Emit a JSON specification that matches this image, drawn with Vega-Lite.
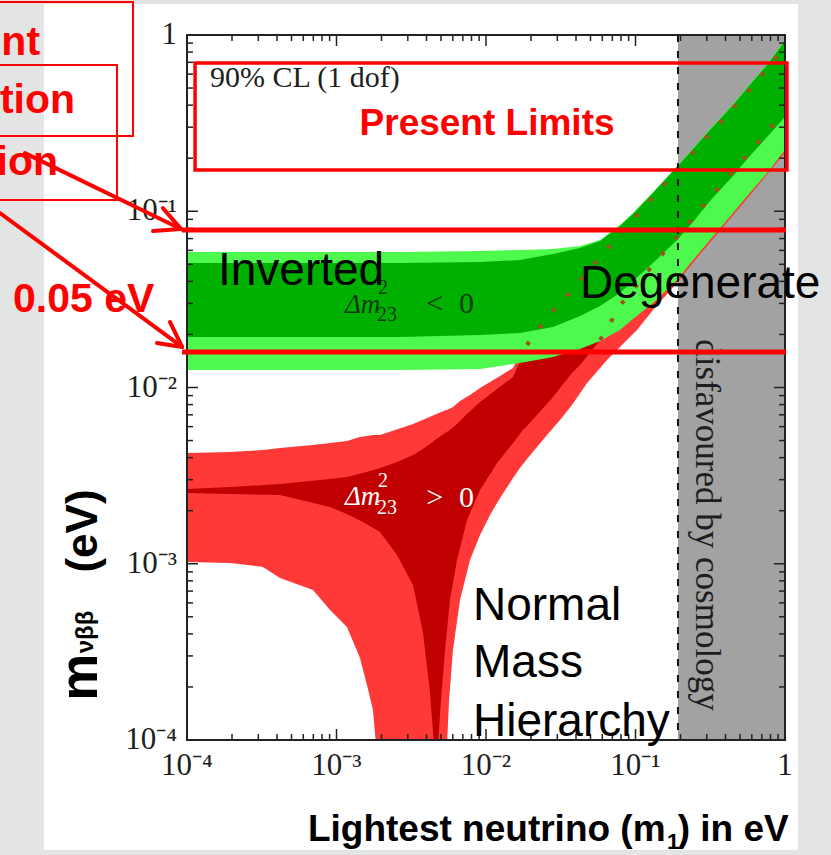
{
  "$schema": "https://vega.github.io/schema/vega-lite/v6.json",
  "width": 598,
  "height": 705,
  "autosize": {"type": "none"},
  "padding": {"left": 187, "top": 35, "right": 46, "bottom": 115},
  "background": "#ffffff",
  "config": {"view": {"stroke": null}},
  "datasets": {
    "bands": [
      {"band": "inverted_outer", "log_m1": -4.0, "log_mbb_upper": -1.231, "log_mbb_lower": -1.901},
      {"band": "inverted_outer", "log_m1": -3.244, "log_mbb_upper": -1.231, "log_mbb_lower": -1.901},
      {"band": "inverted_outer", "log_m1": -2.575, "log_mbb_upper": -1.231, "log_mbb_lower": -1.901},
      {"band": "inverted_outer", "log_m1": -2.04, "log_mbb_upper": -1.226, "log_mbb_lower": -1.895},
      {"band": "inverted_outer", "log_m1": -1.773, "log_mbb_upper": -1.22, "log_mbb_lower": -1.861},
      {"band": "inverted_outer", "log_m1": -1.552, "log_mbb_upper": -1.214, "log_mbb_lower": -1.827},
      {"band": "inverted_outer", "log_m1": -1.371, "log_mbb_upper": -1.197, "log_mbb_lower": -1.782},
      {"band": "inverted_outer", "log_m1": -1.237, "log_mbb_upper": -1.163, "log_mbb_lower": -1.736},
      {"band": "inverted_outer", "log_m1": -1.104, "log_mbb_upper": -1.078, "log_mbb_lower": -1.674},
      {"band": "inverted_outer", "log_m1": -1.017, "log_mbb_upper": -1.01, "log_mbb_lower": -1.611},
      {"band": "inverted_outer", "log_m1": -0.883, "log_mbb_upper": -0.891, "log_mbb_lower": -1.521},
      {"band": "inverted_outer", "log_m1": -0.722, "log_mbb_upper": -0.743, "log_mbb_lower": -1.39},
      {"band": "inverted_outer", "log_m1": -0.615, "log_mbb_upper": -0.641, "log_mbb_lower": -1.277},
      {"band": "inverted_outer", "log_m1": -0.502, "log_mbb_upper": -0.533, "log_mbb_lower": -1.163},
      {"band": "inverted_outer", "log_m1": -0.348, "log_mbb_upper": -0.391, "log_mbb_lower": -1.01},
      {"band": "inverted_outer", "log_m1": -0.247, "log_mbb_upper": -0.289, "log_mbb_lower": -0.908},
      {"band": "inverted_outer", "log_m1": -0.12, "log_mbb_upper": -0.165, "log_mbb_lower": -0.783},
      {"band": "inverted_outer", "log_m1": 0.0, "log_mbb_upper": -0.028, "log_mbb_lower": -0.652},
      {"band": "inverted_inner", "log_m1": -4.0, "log_mbb_upper": -1.294, "log_mbb_lower": -1.713},
      {"band": "inverted_inner", "log_m1": -3.244, "log_mbb_upper": -1.294, "log_mbb_lower": -1.713},
      {"band": "inverted_inner", "log_m1": -2.575, "log_mbb_upper": -1.294, "log_mbb_lower": -1.713},
      {"band": "inverted_inner", "log_m1": -2.04, "log_mbb_upper": -1.288, "log_mbb_lower": -1.702},
      {"band": "inverted_inner", "log_m1": -1.773, "log_mbb_upper": -1.277, "log_mbb_lower": -1.691},
      {"band": "inverted_inner", "log_m1": -1.552, "log_mbb_upper": -1.243, "log_mbb_lower": -1.657},
      {"band": "inverted_inner", "log_m1": -1.371, "log_mbb_upper": -1.209, "log_mbb_lower": -1.594},
      {"band": "inverted_inner", "log_m1": -1.237, "log_mbb_upper": -1.169, "log_mbb_lower": -1.538},
      {"band": "inverted_inner", "log_m1": -1.104, "log_mbb_upper": -1.084, "log_mbb_lower": -1.464},
      {"band": "inverted_inner", "log_m1": -1.017, "log_mbb_upper": -1.016, "log_mbb_lower": -1.396},
      {"band": "inverted_inner", "log_m1": -0.883, "log_mbb_upper": -0.896, "log_mbb_lower": -1.294},
      {"band": "inverted_inner", "log_m1": -0.722, "log_mbb_upper": -0.749, "log_mbb_lower": -1.163},
      {"band": "inverted_inner", "log_m1": -0.615, "log_mbb_upper": -0.647, "log_mbb_lower": -1.061},
      {"band": "inverted_inner", "log_m1": -0.502, "log_mbb_upper": -0.539, "log_mbb_lower": -0.942},
      {"band": "inverted_inner", "log_m1": -0.348, "log_mbb_upper": -0.397, "log_mbb_lower": -0.8},
      {"band": "inverted_inner", "log_m1": -0.247, "log_mbb_upper": -0.295, "log_mbb_lower": -0.698},
      {"band": "inverted_inner", "log_m1": -0.12, "log_mbb_upper": -0.17, "log_mbb_lower": -0.579},
      {"band": "inverted_inner", "log_m1": 0.0, "log_mbb_upper": -0.034, "log_mbb_lower": -0.465},
      {"band": "normal_outer", "log_m1": -4.0, "log_mbb_upper": -2.372, "log_mbb_lower": -2.99},
      {"band": "normal_outer", "log_m1": -3.712, "log_mbb_upper": -2.366, "log_mbb_lower": -2.996},
      {"band": "normal_outer", "log_m1": -3.492, "log_mbb_upper": -2.355, "log_mbb_lower": -3.018},
      {"band": "normal_outer", "log_m1": -3.378, "log_mbb_upper": -2.343, "log_mbb_lower": -3.081},
      {"band": "normal_outer", "log_m1": -3.157, "log_mbb_upper": -2.326, "log_mbb_lower": -3.149},
      {"band": "normal_outer", "log_m1": -3.043, "log_mbb_upper": -2.315, "log_mbb_lower": -3.262},
      {"band": "normal_outer", "log_m1": -2.93, "log_mbb_upper": -2.304, "log_mbb_lower": -3.359},
      {"band": "normal_outer", "log_m1": -2.843, "log_mbb_upper": -2.281, "log_mbb_lower": -3.535},
      {"band": "normal_outer", "log_m1": -2.796, "log_mbb_upper": -2.275, "log_mbb_lower": -3.688},
      {"band": "normal_outer", "log_m1": -2.756, "log_mbb_upper": -2.27, "log_mbb_lower": -3.83},
      {"band": "normal_outer", "log_m1": -2.736, "log_mbb_upper": -2.27, "log_mbb_lower": -4.028},
      {"band": "normal_outer", "log_m1": -2.709, "log_mbb_upper": -2.27, "log_mbb_lower": -4.2},
      {"band": "normal_outer", "log_m1": -2.488, "log_mbb_upper": -2.207, "log_mbb_lower": -4.2},
      {"band": "normal_outer", "log_m1": -2.268, "log_mbb_upper": -2.128, "log_mbb_lower": -4.2},
      {"band": "normal_outer", "log_m1": -2.261, "log_mbb_upper": -2.128, "log_mbb_lower": -4.028},
      {"band": "normal_outer", "log_m1": -2.247, "log_mbb_upper": -2.122, "log_mbb_lower": -3.773},
      {"band": "normal_outer", "log_m1": -2.221, "log_mbb_upper": -2.111, "log_mbb_lower": -3.489},
      {"band": "normal_outer", "log_m1": -2.174, "log_mbb_upper": -2.077, "log_mbb_lower": -3.206},
      {"band": "normal_outer", "log_m1": -2.107, "log_mbb_upper": -2.043, "log_mbb_lower": -2.979},
      {"band": "normal_outer", "log_m1": -2.04, "log_mbb_upper": -2.003, "log_mbb_lower": -2.837},
      {"band": "normal_outer", "log_m1": -1.973, "log_mbb_upper": -1.969, "log_mbb_lower": -2.723},
      {"band": "normal_outer", "log_m1": -1.906, "log_mbb_upper": -1.935, "log_mbb_lower": -2.627},
      {"band": "normal_outer", "log_m1": -1.819, "log_mbb_upper": -1.889, "log_mbb_lower": -2.513},
      {"band": "normal_outer", "log_m1": -1.773, "log_mbb_upper": -1.804, "log_mbb_lower": -2.457},
      {"band": "normal_outer", "log_m1": -1.726, "log_mbb_upper": -1.719, "log_mbb_lower": -2.406},
      {"band": "normal_outer", "log_m1": -1.592, "log_mbb_upper": -1.572, "log_mbb_lower": -2.27},
      {"band": "normal_outer", "log_m1": -1.505, "log_mbb_upper": -1.492, "log_mbb_lower": -2.184},
      {"band": "normal_outer", "log_m1": -1.425, "log_mbb_upper": -1.418, "log_mbb_lower": -2.099},
      {"band": "normal_outer", "log_m1": -1.324, "log_mbb_upper": -1.316, "log_mbb_lower": -1.974},
      {"band": "normal_outer", "log_m1": -1.237, "log_mbb_upper": -1.231, "log_mbb_lower": -1.889},
      {"band": "normal_outer", "log_m1": -1.191, "log_mbb_upper": -1.186, "log_mbb_lower": -1.844},
      {"band": "normal_outer", "log_m1": -1.104, "log_mbb_upper": -1.11, "log_mbb_lower": -1.77},
      {"band": "normal_outer", "log_m1": -0.99, "log_mbb_upper": -1.02, "log_mbb_lower": -1.674},
      {"band": "normal_outer", "log_m1": -0.883, "log_mbb_upper": -0.92, "log_mbb_lower": -1.56},
      {"band": "normal_outer", "log_m1": -0.722, "log_mbb_upper": -0.78, "log_mbb_lower": -1.405},
      {"band": "normal_outer", "log_m1": -0.589, "log_mbb_upper": -0.66, "log_mbb_lower": -1.265},
      {"band": "normal_outer", "log_m1": -0.247, "log_mbb_upper": -0.32, "log_mbb_lower": -0.922},
      {"band": "normal_outer", "log_m1": 0.0, "log_mbb_upper": -0.06, "log_mbb_lower": -0.668},
      {"band": "normal_inner", "log_m1": -4.0, "log_mbb_upper": -2.576, "log_mbb_lower": -2.599},
      {"band": "normal_inner", "log_m1": -3.712, "log_mbb_upper": -2.565, "log_mbb_lower": -2.604},
      {"band": "normal_inner", "log_m1": -3.378, "log_mbb_upper": -2.548, "log_mbb_lower": -2.61},
      {"band": "normal_inner", "log_m1": -3.043, "log_mbb_upper": -2.519, "log_mbb_lower": -2.678},
      {"band": "normal_inner", "log_m1": -2.93, "log_mbb_upper": -2.508, "log_mbb_lower": -2.718},
      {"band": "normal_inner", "log_m1": -2.823, "log_mbb_upper": -2.485, "log_mbb_lower": -2.763},
      {"band": "normal_inner", "log_m1": -2.709, "log_mbb_upper": -2.457, "log_mbb_lower": -2.82},
      {"band": "normal_inner", "log_m1": -2.595, "log_mbb_upper": -2.423, "log_mbb_lower": -2.95},
      {"band": "normal_inner", "log_m1": -2.488, "log_mbb_upper": -2.383, "log_mbb_lower": -3.121},
      {"band": "normal_inner", "log_m1": -2.421, "log_mbb_upper": -2.349, "log_mbb_lower": -3.393},
      {"band": "normal_inner", "log_m1": -2.375, "log_mbb_upper": -2.321, "log_mbb_lower": -3.728},
      {"band": "normal_inner", "log_m1": -2.348, "log_mbb_upper": -2.304, "log_mbb_lower": -4.028},
      {"band": "normal_inner", "log_m1": -2.334, "log_mbb_upper": -2.292, "log_mbb_lower": -4.2},
      {"band": "normal_inner", "log_m1": -2.321, "log_mbb_upper": -2.287, "log_mbb_lower": -4.028},
      {"band": "normal_inner", "log_m1": -2.301, "log_mbb_upper": -2.275, "log_mbb_lower": -3.773},
      {"band": "normal_inner", "log_m1": -2.274, "log_mbb_upper": -2.258, "log_mbb_lower": -3.489},
      {"band": "normal_inner", "log_m1": -2.241, "log_mbb_upper": -2.241, "log_mbb_lower": -3.206},
      {"band": "normal_inner", "log_m1": -2.194, "log_mbb_upper": -2.207, "log_mbb_lower": -2.979},
      {"band": "normal_inner", "log_m1": -2.127, "log_mbb_upper": -2.15, "log_mbb_lower": -2.752},
      {"band": "normal_inner", "log_m1": -2.04, "log_mbb_upper": -2.082, "log_mbb_lower": -2.582},
      {"band": "normal_inner", "log_m1": -1.926, "log_mbb_upper": -2.009, "log_mbb_lower": -2.428},
      {"band": "normal_inner", "log_m1": -1.819, "log_mbb_upper": -1.94, "log_mbb_lower": -2.315},
      {"band": "normal_inner", "log_m1": -1.753, "log_mbb_upper": -1.81, "log_mbb_lower": -2.241},
      {"band": "normal_inner", "log_m1": -1.726, "log_mbb_upper": -1.759, "log_mbb_lower": -2.218},
      {"band": "normal_inner", "log_m1": -1.605, "log_mbb_upper": -1.617, "log_mbb_lower": -2.105},
      {"band": "normal_inner", "log_m1": -1.552, "log_mbb_upper": -1.566, "log_mbb_lower": -2.054},
      {"band": "normal_inner", "log_m1": -1.425, "log_mbb_upper": -1.447, "log_mbb_lower": -1.918},
      {"band": "normal_inner", "log_m1": -1.371, "log_mbb_upper": -1.396, "log_mbb_lower": -1.872},
      {"band": "normal_inner", "log_m1": -1.237, "log_mbb_upper": -1.26, "log_mbb_lower": -1.73},
      {"band": "normal_inner", "log_m1": -1.09, "log_mbb_upper": -1.112, "log_mbb_lower": -1.521},
      {"band": "normal_inner", "log_m1": -0.997, "log_mbb_upper": -1.03, "log_mbb_lower": -1.424},
      {"band": "normal_inner", "log_m1": -0.883, "log_mbb_upper": -0.92, "log_mbb_lower": -1.305},
      {"band": "normal_inner", "log_m1": -0.749, "log_mbb_upper": -0.79, "log_mbb_lower": -1.174},
      {"band": "normal_inner", "log_m1": -0.502, "log_mbb_upper": -0.56, "log_mbb_lower": -0.925},
      {"band": "normal_inner", "log_m1": -0.247, "log_mbb_upper": -0.32, "log_mbb_lower": -0.675},
      {"band": "normal_inner", "log_m1": 0.0, "log_mbb_upper": -0.065, "log_mbb_lower": -0.431}
    ],
    "edges": [
      {"curve": "normal_inner_upper", "log_m1": -1.726, "log_mbb": -1.759},
      {"curve": "normal_inner_upper", "log_m1": -1.605, "log_mbb": -1.617},
      {"curve": "normal_inner_upper", "log_m1": -1.425, "log_mbb": -1.447},
      {"curve": "normal_inner_upper", "log_m1": -1.237, "log_mbb": -1.26},
      {"curve": "normal_inner_upper", "log_m1": -0.997, "log_mbb": -1.03},
      {"curve": "normal_inner_upper", "log_m1": -0.749, "log_mbb": -0.79},
      {"curve": "normal_inner_upper", "log_m1": -0.502, "log_mbb": -0.56},
      {"curve": "normal_inner_upper", "log_m1": -0.247, "log_mbb": -0.32},
      {"curve": "normal_inner_upper", "log_m1": 0.0, "log_mbb": -0.065},
      {"curve": "normal_inner_lower", "log_m1": -1.237, "log_mbb": -1.73},
      {"curve": "normal_inner_lower", "log_m1": -1.09, "log_mbb": -1.521},
      {"curve": "normal_inner_lower", "log_m1": -0.883, "log_mbb": -1.305},
      {"curve": "normal_inner_lower", "log_m1": -0.749, "log_mbb": -1.174},
      {"curve": "normal_inner_lower", "log_m1": -0.502, "log_mbb": -0.925},
      {"curve": "normal_inner_lower", "log_m1": -0.247, "log_mbb": -0.675},
      {"curve": "normal_inner_lower", "log_m1": 0.0, "log_mbb": -0.431}
    ],
    "ticks": [
      {"tick": -4, "kind": "major", "label": "10⁻⁴"},
      {"tick": -3.699, "kind": "minor", "label": ""},
      {"tick": -3.523, "kind": "minor", "label": ""},
      {"tick": -3.398, "kind": "minor", "label": ""},
      {"tick": -3.301, "kind": "minor", "label": ""},
      {"tick": -3.222, "kind": "minor", "label": ""},
      {"tick": -3.155, "kind": "minor", "label": ""},
      {"tick": -3.097, "kind": "minor", "label": ""},
      {"tick": -3.046, "kind": "minor", "label": ""},
      {"tick": -3, "kind": "major", "label": "10⁻³"},
      {"tick": -2.699, "kind": "minor", "label": ""},
      {"tick": -2.523, "kind": "minor", "label": ""},
      {"tick": -2.398, "kind": "minor", "label": ""},
      {"tick": -2.301, "kind": "minor", "label": ""},
      {"tick": -2.222, "kind": "minor", "label": ""},
      {"tick": -2.155, "kind": "minor", "label": ""},
      {"tick": -2.097, "kind": "minor", "label": ""},
      {"tick": -2.046, "kind": "minor", "label": ""},
      {"tick": -2, "kind": "major", "label": "10⁻²"},
      {"tick": -1.699, "kind": "minor", "label": ""},
      {"tick": -1.523, "kind": "minor", "label": ""},
      {"tick": -1.398, "kind": "minor", "label": ""},
      {"tick": -1.301, "kind": "minor", "label": ""},
      {"tick": -1.222, "kind": "minor", "label": ""},
      {"tick": -1.155, "kind": "minor", "label": ""},
      {"tick": -1.097, "kind": "minor", "label": ""},
      {"tick": -1.046, "kind": "minor", "label": ""},
      {"tick": -1, "kind": "major", "label": "10⁻¹"},
      {"tick": -0.699, "kind": "minor", "label": ""},
      {"tick": -0.523, "kind": "minor", "label": ""},
      {"tick": -0.398, "kind": "minor", "label": ""},
      {"tick": -0.301, "kind": "minor", "label": ""},
      {"tick": -0.222, "kind": "minor", "label": ""},
      {"tick": -0.155, "kind": "minor", "label": ""},
      {"tick": -0.097, "kind": "minor", "label": ""},
      {"tick": -0.046, "kind": "minor", "label": ""},
      {"tick": 0, "kind": "major", "label": "1"}
    ],
    "annotations": [
      {"role": "region", "text": "Inverted", "log_m1": -3.793, "log_mbb": -1.418},
      {"role": "region", "text": "Degenerate", "log_m1": -1.371, "log_mbb": -1.492},
      {"role": "region", "text": "Normal", "log_m1": -2.087, "log_mbb": -3.319},
      {"role": "region", "text": "Mass", "log_m1": -2.087, "log_mbb": -3.643},
      {"role": "region", "text": "Hierarchy", "log_m1": -2.087, "log_mbb": -3.977},
      {"role": "cut", "text": "nt", "log_m1": -4.983, "log_mbb": -0.113},
      {"role": "cut", "text": "tion", "log_m1": -4.749, "log_mbb": -0.443},
      {"role": "cut", "text": "ion", "log_m1": -4.863, "log_mbb": -0.794},
      {"role": "value", "text": "0.05 eV", "log_m1": -5.164, "log_mbb": -1.572},
      {"role": "limits", "text": "Present Limits", "log_m1": -1.993, "log_mbb": -0.567},
      {"role": "cl", "text": "90% CL (1 dof)", "log_m1": -3.846, "log_mbb": -0.295},
      {"role": "cosmology", "text": "disfavoured by cosmology", "log_m1": -0.522, "log_mbb": -2.78}
    ],
    "dm": [
      {"hierarchy": "inverted", "part": "symbol", "text": "Δm", "log_m1": -2.943, "log_mbb": -1.577},
      {"hierarchy": "inverted", "part": "index", "text": "2", "log_m1": -2.722, "log_mbb": -1.47},
      {"hierarchy": "inverted", "part": "index", "text": "23", "log_m1": -2.729, "log_mbb": -1.625},
      {"hierarchy": "inverted", "part": "relation", "text": "<", "log_m1": -2.4, "log_mbb": -1.577},
      {"hierarchy": "inverted", "part": "relation", "text": "0", "log_m1": -2.18, "log_mbb": -1.577},
      {"hierarchy": "normal", "part": "symbol", "text": "Δm", "log_m1": -2.943, "log_mbb": -2.667},
      {"hierarchy": "normal", "part": "index", "text": "2", "log_m1": -2.722, "log_mbb": -2.565},
      {"hierarchy": "normal", "part": "index", "text": "23", "log_m1": -2.729, "log_mbb": -2.715},
      {"hierarchy": "normal", "part": "relation", "text": ">", "log_m1": -2.4, "log_mbb": -2.678},
      {"hierarchy": "normal", "part": "relation", "text": "0", "log_m1": -2.18, "log_mbb": -2.678}
    ],
    "titles": [
      {"part": "y_m", "text": "m", "log_m1": -4.602, "log_mbb": -3.643},
      {"part": "y_sub", "text": "νββ", "log_m1": -4.629, "log_mbb": -3.387},
      {"part": "y_unit", "text": "(eV)", "log_m1": -4.602, "log_mbb": -2.814},
      {"part": "x_main", "text": "Lightest neutrino (m", "log_m1": -3.191, "log_mbb": -4.573},
      {"part": "x_sub", "text": "1", "log_m1": -0.79, "log_mbb": -4.618},
      {"part": "x_end", "text": ") in eV", "log_m1": 0.025, "log_mbb": -4.573}
    ],
    "margins": [
      {"side": "left", "x_start": -5.5, "x_end": -4.957, "y_start": 0.4, "y_end": -4.9},
      {"side": "right", "x_start": 0.087, "x_end": 0.5, "y_start": 0.4, "y_end": -4.9},
      {"side": "top", "x_start": -5.5, "x_end": 0.5, "y_start": 0.4, "y_end": 0.176},
      {"side": "bottom", "x_start": -5.5, "x_end": 0.5, "y_start": -4.624, "y_end": -4.9}
    ],
    "boxes": [
      {"box": "present", "x_start": -3.946, "x_end": 0.013, "y_start": -0.159, "y_end": -0.766},
      {"box": "left_upper", "x_start": -5.3, "x_end": -4.361, "y_start": 0.187, "y_end": -0.573},
      {"box": "left_lower", "x_start": -5.3, "x_end": -4.468, "y_start": -0.17, "y_end": -0.936}
    ],
    "arrows": [
      {"x_start": -5.084, "y_start": -0.67, "x_end": -4.04, "y_end": -1.101},
      {"x_start": -4.227, "y_start": -1.112, "x_end": -4.04, "y_end": -1.101},
      {"x_start": -4.161, "y_start": -0.982, "x_end": -4.04, "y_end": -1.101},
      {"x_start": -5.251, "y_start": -1.01, "x_end": -4.033, "y_end": -1.77},
      {"x_start": -4.201, "y_start": -1.748, "x_end": -4.033, "y_end": -1.77},
      {"x_start": -4.114, "y_start": -1.628, "x_end": -4.033, "y_end": -1.77}
    ]
  },
  "layer": [
    {
      "data": {"name": "margins"},
      "mark": {"type": "rect", "color": "#e3e4e4"},
      "encoding": {
        "x": {"field": "x_start", "type": "quantitative", "scale": {"domain": [-4, 0], "nice": false, "zero": false}, "axis": null},
        "x2": {"field": "x_end"},
        "y": {"field": "y_start", "type": "quantitative", "scale": {"domain": [-4, 0], "nice": false, "zero": false}, "axis": null},
        "y2": {"field": "y_end"}
      }
    },
    {
      "data": {"values": [{"x_start": -0.716, "x_end": 0, "y_start": 0, "y_end": -4}]},
      "mark": {"type": "rect", "color": "#a2a2a2", "clip": true},
      "encoding": {
        "x": {"field": "x_start", "type": "quantitative", "axis": null},
        "x2": {"field": "x_end"},
        "y": {"field": "y_start", "type": "quantitative", "axis": null},
        "y2": {"field": "y_end"}
      }
    },
    {
      "data": {"name": "bands"},
      "transform": [{"filter": "datum.band == 'normal_outer'"}],
      "mark": {"type": "area", "color": "#ff3838", "clip": true},
      "encoding": {
        "x": {"field": "log_m1", "type": "quantitative", "axis": null},
        "y": {"field": "log_mbb_upper", "type": "quantitative", "axis": null},
        "y2": {"field": "log_mbb_lower"}
      }
    },
    {
      "data": {"name": "bands"},
      "transform": [{"filter": "datum.band == 'normal_inner'"}],
      "mark": {"type": "area", "color": "#c00000", "clip": true},
      "encoding": {
        "x": {"field": "log_m1", "type": "quantitative", "axis": null},
        "y": {"field": "log_mbb_upper", "type": "quantitative", "axis": null},
        "y2": {"field": "log_mbb_lower"}
      }
    },
    {
      "data": {"name": "bands"},
      "transform": [{"filter": "datum.band == 'inverted_outer'"}],
      "mark": {"type": "area", "color": "#4cf94c", "clip": true},
      "encoding": {
        "x": {"field": "log_m1", "type": "quantitative", "axis": null},
        "y": {"field": "log_mbb_upper", "type": "quantitative", "axis": null},
        "y2": {"field": "log_mbb_lower"}
      }
    },
    {
      "data": {"name": "bands"},
      "transform": [{"filter": "datum.band == 'inverted_inner'"}],
      "mark": {"type": "area", "color": "#00b000", "clip": true},
      "encoding": {
        "x": {"field": "log_m1", "type": "quantitative", "axis": null},
        "y": {"field": "log_mbb_upper", "type": "quantitative", "axis": null},
        "y2": {"field": "log_mbb_lower"}
      }
    },
    {
      "data": {"name": "edges"},
      "mark": {"type": "line", "color": "#a0521c", "strokeWidth": 4, "strokeDash": [4, 17], "clip": true},
      "encoding": {
        "x": {"field": "log_m1", "type": "quantitative", "axis": null},
        "y": {"field": "log_mbb", "type": "quantitative", "axis": null},
        "detail": {"field": "curve"}
      }
    },
    {
      "data": {"values": [{"log_m1": -0.716}]},
      "mark": {"type": "rule", "color": "#111111", "strokeWidth": 2, "strokeDash": [7, 9]},
      "encoding": {"x": {"field": "log_m1", "type": "quantitative", "axis": null}}
    },
    {
      "data": {"values": [{"x_start": -4, "x_end": 0, "y_start": 0, "y_end": -4}]},
      "mark": {"type": "rect", "fillOpacity": 0, "stroke": "#222222", "strokeWidth": 2},
      "encoding": {
        "x": {"field": "x_start", "type": "quantitative", "axis": null},
        "x2": {"field": "x_end"},
        "y": {"field": "y_start", "type": "quantitative", "axis": null},
        "y2": {"field": "y_end"}
      }
    },
    {
      "data": {"name": "ticks"},
      "transform": [{"filter": "datum.kind == 'major'"}],
      "mark": {"type": "rule", "color": "#222222", "strokeWidth": 1.5},
      "encoding": {
        "x": {"field": "tick", "type": "quantitative", "axis": null},
        "y": {"datum": -4, "type": "quantitative", "axis": null},
        "y2": {"datum": -3.9376}
      }
    },
    {
      "data": {"name": "ticks"},
      "transform": [{"filter": "datum.kind == 'minor'"}],
      "mark": {"type": "rule", "color": "#222222", "strokeWidth": 1.5},
      "encoding": {
        "x": {"field": "tick", "type": "quantitative", "axis": null},
        "y": {"datum": -4, "type": "quantitative", "axis": null},
        "y2": {"datum": -3.966}
      }
    },
    {
      "data": {"name": "ticks"},
      "transform": [{"filter": "datum.kind == 'major'"}],
      "mark": {"type": "rule", "color": "#222222", "strokeWidth": 1.5},
      "encoding": {
        "x": {"field": "tick", "type": "quantitative", "axis": null},
        "y": {"datum": 0, "type": "quantitative", "axis": null},
        "y2": {"datum": -0.0624}
      }
    },
    {
      "data": {"name": "ticks"},
      "transform": [{"filter": "datum.kind == 'minor'"}],
      "mark": {"type": "rule", "color": "#222222", "strokeWidth": 1.5},
      "encoding": {
        "x": {"field": "tick", "type": "quantitative", "axis": null},
        "y": {"datum": 0, "type": "quantitative", "axis": null},
        "y2": {"datum": -0.034}
      }
    },
    {
      "data": {"name": "ticks"},
      "transform": [{"filter": "datum.kind == 'major'"}],
      "mark": {"type": "rule", "color": "#222222", "strokeWidth": 1.5},
      "encoding": {
        "y": {"field": "tick", "type": "quantitative", "axis": null},
        "x": {"datum": -4, "type": "quantitative", "axis": null},
        "x2": {"datum": -3.9264}
      }
    },
    {
      "data": {"name": "ticks"},
      "transform": [{"filter": "datum.kind == 'minor'"}],
      "mark": {"type": "rule", "color": "#222222", "strokeWidth": 1.5},
      "encoding": {
        "y": {"field": "tick", "type": "quantitative", "axis": null},
        "x": {"datum": -4, "type": "quantitative", "axis": null},
        "x2": {"datum": -3.96}
      }
    },
    {
      "data": {"name": "ticks"},
      "transform": [{"filter": "datum.kind == 'major'"}],
      "mark": {"type": "rule", "color": "#222222", "strokeWidth": 1.5},
      "encoding": {
        "y": {"field": "tick", "type": "quantitative", "axis": null},
        "x": {"datum": 0, "type": "quantitative", "axis": null},
        "x2": {"datum": -0.0736}
      }
    },
    {
      "data": {"name": "ticks"},
      "transform": [{"filter": "datum.kind == 'minor'"}],
      "mark": {"type": "rule", "color": "#222222", "strokeWidth": 1.5},
      "encoding": {
        "y": {"field": "tick", "type": "quantitative", "axis": null},
        "x": {"datum": 0, "type": "quantitative", "axis": null},
        "x2": {"datum": -0.04}
      }
    },
    {
      "data": {"name": "ticks"},
      "transform": [{"filter": "datum.kind == 'major'"}],
      "mark": {"type": "text", "font": "Liberation Serif", "fontSize": 31, "color": "#1e1e1e", "align": "center", "baseline": "top", "dy": 11},
      "encoding": {
        "x": {"field": "tick", "type": "quantitative", "axis": null},
        "y": {"datum": -4, "type": "quantitative", "axis": null},
        "text": {"field": "label"}
      }
    },
    {
      "data": {"name": "ticks"},
      "transform": [{"filter": "datum.kind == 'major'"}],
      "mark": {"type": "text", "font": "Liberation Serif", "fontSize": 31, "color": "#1e1e1e", "align": "right", "baseline": "middle", "dx": -10},
      "encoding": {
        "y": {"field": "tick", "type": "quantitative", "axis": null},
        "x": {"datum": -4, "type": "quantitative", "axis": null},
        "text": {"field": "label"}
      }
    },
    {
      "data": {"name": "annotations"},
      "transform": [{"filter": "datum.role == 'cl'"}],
      "mark": {"type": "text", "font": "Liberation Serif", "fontSize": 30, "color": "#1e1e1e", "align": "left", "baseline": "alphabetic"},
      "encoding": {
        "x": {"field": "log_m1", "type": "quantitative", "axis": null},
        "y": {"field": "log_mbb", "type": "quantitative", "axis": null},
        "text": {"field": "text"}
      }
    },
    {
      "data": {"name": "annotations"},
      "transform": [{"filter": "datum.role == 'cosmology'"}],
      "mark": {"type": "text", "font": "Liberation Serif", "fontSize": 35, "color": "#1e1e1e", "align": "center", "baseline": "middle", "angle": 90},
      "encoding": {
        "x": {"field": "log_m1", "type": "quantitative", "axis": null},
        "y": {"field": "log_mbb", "type": "quantitative", "axis": null},
        "text": {"field": "text"}
      }
    },
    {
      "data": {"name": "dm"},
      "transform": [{"filter": "datum.part == 'symbol'"}],
      "mark": {"type": "text", "font": "Liberation Serif", "fontStyle": "italic", "fontSize": 27, "align": "left", "baseline": "alphabetic"},
      "encoding": {
        "x": {"field": "log_m1", "type": "quantitative", "axis": null},
        "y": {"field": "log_mbb", "type": "quantitative", "axis": null},
        "text": {"field": "text"},
        "color": {"field": "hierarchy", "type": "nominal", "scale": {"domain": ["inverted", "normal"], "range": ["#123a12", "#ffffff"]}, "legend": null}
      }
    },
    {
      "data": {"name": "dm"},
      "transform": [{"filter": "datum.part == 'index'"}],
      "mark": {"type": "text", "font": "Liberation Serif", "fontSize": 20, "align": "left", "baseline": "alphabetic"},
      "encoding": {
        "x": {"field": "log_m1", "type": "quantitative", "axis": null},
        "y": {"field": "log_mbb", "type": "quantitative", "axis": null},
        "text": {"field": "text"},
        "color": {"field": "hierarchy", "type": "nominal", "legend": null}
      }
    },
    {
      "data": {"name": "dm"},
      "transform": [{"filter": "datum.part == 'relation'"}],
      "mark": {"type": "text", "font": "Liberation Serif", "fontSize": 30, "align": "left", "baseline": "alphabetic"},
      "encoding": {
        "x": {"field": "log_m1", "type": "quantitative", "axis": null},
        "y": {"field": "log_mbb", "type": "quantitative", "axis": null},
        "text": {"field": "text"},
        "color": {"field": "hierarchy", "type": "nominal", "legend": null}
      }
    },
    {
      "data": {"name": "annotations"},
      "transform": [{"filter": "datum.role == 'region'"}],
      "mark": {"type": "text", "font": "Liberation Sans", "fontSize": 46, "color": "#000000", "align": "left", "baseline": "alphabetic"},
      "encoding": {
        "x": {"field": "log_m1", "type": "quantitative", "axis": null},
        "y": {"field": "log_mbb", "type": "quantitative", "axis": null},
        "text": {"field": "text"}
      }
    },
    {
      "data": {"name": "annotations"},
      "transform": [{"filter": "datum.role == 'limits'"}],
      "mark": {"type": "text", "font": "Liberation Sans", "fontWeight": "bold", "fontSize": 37, "color": "#ff0000", "align": "center", "baseline": "alphabetic"},
      "encoding": {
        "x": {"field": "log_m1", "type": "quantitative", "axis": null},
        "y": {"field": "log_mbb", "type": "quantitative", "axis": null},
        "text": {"field": "text"}
      }
    },
    {
      "data": {"name": "annotations"},
      "transform": [{"filter": "datum.role == 'value'"}],
      "mark": {"type": "text", "font": "Liberation Sans", "fontWeight": "bold", "fontSize": 41, "color": "#ff0000", "align": "left", "baseline": "alphabetic"},
      "encoding": {
        "x": {"field": "log_m1", "type": "quantitative", "axis": null},
        "y": {"field": "log_mbb", "type": "quantitative", "axis": null},
        "text": {"field": "text"}
      }
    },
    {
      "data": {"name": "annotations"},
      "transform": [{"filter": "datum.role == 'cut'"}],
      "mark": {"type": "text", "font": "Liberation Sans", "fontWeight": "bold", "fontSize": 41, "color": "#ff0000", "align": "right", "baseline": "alphabetic"},
      "encoding": {
        "x": {"field": "log_m1", "type": "quantitative", "axis": null},
        "y": {"field": "log_mbb", "type": "quantitative", "axis": null},
        "text": {"field": "text"}
      }
    },
    {
      "data": {"values": [{"y_level": -1.106}, {"y_level": -1.799}]},
      "mark": {"type": "rule", "color": "#ff0000", "strokeWidth": 5},
      "encoding": {
        "x": {"datum": -4.033, "type": "quantitative", "axis": null},
        "x2": {"datum": 0.007},
        "y": {"field": "y_level", "type": "quantitative", "axis": null}
      }
    },
    {
      "data": {"name": "boxes"},
      "transform": [{"filter": "datum.box == 'present'"}],
      "mark": {"type": "rect", "fillOpacity": 0, "stroke": "#ff0000", "strokeWidth": 3.5},
      "encoding": {
        "x": {"field": "x_start", "type": "quantitative", "axis": null},
        "x2": {"field": "x_end"},
        "y": {"field": "y_start", "type": "quantitative", "axis": null},
        "y2": {"field": "y_end"}
      }
    },
    {
      "data": {"name": "boxes"},
      "transform": [{"filter": "datum.box != 'present'"}],
      "mark": {"type": "rect", "fillOpacity": 0, "stroke": "#ff0000", "strokeWidth": 2},
      "encoding": {
        "x": {"field": "x_start", "type": "quantitative", "axis": null},
        "x2": {"field": "x_end"},
        "y": {"field": "y_start", "type": "quantitative", "axis": null},
        "y2": {"field": "y_end"}
      }
    },
    {
      "data": {"name": "arrows"},
      "mark": {"type": "rule", "color": "#ff0000", "strokeWidth": 4, "strokeCap": "round"},
      "encoding": {
        "x": {"field": "x_start", "type": "quantitative", "axis": null},
        "x2": {"field": "x_end"},
        "y": {"field": "y_start", "type": "quantitative", "axis": null},
        "y2": {"field": "y_end"}
      }
    },
    {
      "data": {"name": "titles"},
      "transform": [{"filter": "datum.part == 'y_m'"}],
      "mark": {"type": "text", "font": "Liberation Sans", "fontWeight": "bold", "fontSize": 53, "color": "#000000", "align": "center", "baseline": "alphabetic", "angle": -90},
      "encoding": {
        "x": {"field": "log_m1", "type": "quantitative", "axis": null},
        "y": {"field": "log_mbb", "type": "quantitative", "axis": null},
        "text": {"field": "text"}
      }
    },
    {
      "data": {"name": "titles"},
      "transform": [{"filter": "datum.part == 'y_sub'"}],
      "mark": {"type": "text", "font": "Liberation Sans", "fontWeight": "bold", "fontSize": 24, "color": "#000000", "align": "center", "baseline": "alphabetic", "angle": -90},
      "encoding": {
        "x": {"field": "log_m1", "type": "quantitative", "axis": null},
        "y": {"field": "log_mbb", "type": "quantitative", "axis": null},
        "text": {"field": "text"}
      }
    },
    {
      "data": {"name": "titles"},
      "transform": [{"filter": "datum.part == 'y_unit'"}],
      "mark": {"type": "text", "font": "Liberation Sans", "fontWeight": "bold", "fontSize": 44, "color": "#000000", "align": "center", "baseline": "alphabetic", "angle": -90},
      "encoding": {
        "x": {"field": "log_m1", "type": "quantitative", "axis": null},
        "y": {"field": "log_mbb", "type": "quantitative", "axis": null},
        "text": {"field": "text"}
      }
    },
    {
      "data": {"name": "titles"},
      "transform": [{"filter": "datum.part == 'x_main'"}],
      "mark": {"type": "text", "font": "Liberation Sans", "fontWeight": "bold", "fontSize": 37, "color": "#000000", "align": "left", "baseline": "alphabetic"},
      "encoding": {
        "x": {"field": "log_m1", "type": "quantitative", "axis": null},
        "y": {"field": "log_mbb", "type": "quantitative", "axis": null},
        "text": {"field": "text"}
      }
    },
    {
      "data": {"name": "titles"},
      "transform": [{"filter": "datum.part == 'x_sub'"}],
      "mark": {"type": "text", "font": "Liberation Sans", "fontWeight": "bold", "fontSize": 22, "color": "#000000", "align": "left", "baseline": "alphabetic"},
      "encoding": {
        "x": {"field": "log_m1", "type": "quantitative", "axis": null},
        "y": {"field": "log_mbb", "type": "quantitative", "axis": null},
        "text": {"field": "text"}
      }
    },
    {
      "data": {"name": "titles"},
      "transform": [{"filter": "datum.part == 'x_end'"}],
      "mark": {"type": "text", "font": "Liberation Sans", "fontWeight": "bold", "fontSize": 37, "color": "#000000", "align": "right", "baseline": "alphabetic"},
      "encoding": {
        "x": {"field": "log_m1", "type": "quantitative", "axis": null},
        "y": {"field": "log_mbb", "type": "quantitative", "axis": null},
        "text": {"field": "text"}
      }
    }
  ]
}
